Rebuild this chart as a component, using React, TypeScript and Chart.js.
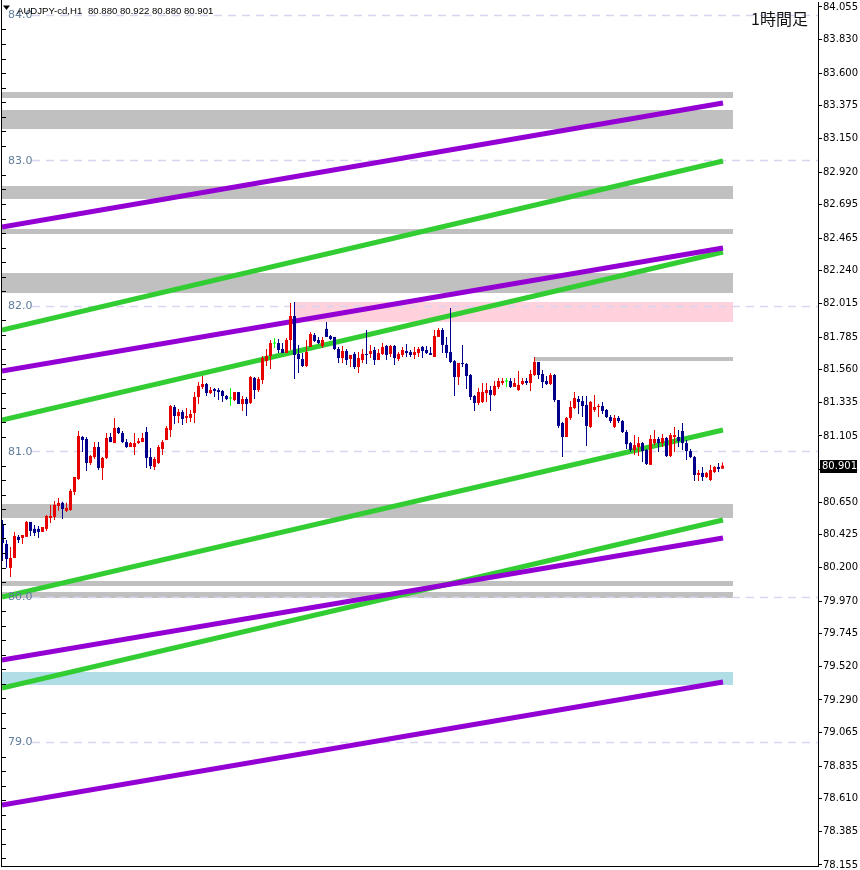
import React, { useEffect, useRef } from 'react';
import { Chart, registerables } from 'chart.js';

Chart.register(...registerables);

// ---- Candle data (AUDJPY-cd, H1) ----
const opens = [
  80.500, 80.362, 80.198, 80.266, 80.411, 80.404, 80.411, 80.514, 80.466, 80.466,
  80.445, 80.466, 80.541, 80.548, 80.624, 80.645, 80.590, 80.596, 80.720, 80.809,
  81.098, 81.084, 80.919, 80.960, 81.029, 80.885, 80.954, 81.098, 81.056, 81.160,
  81.125, 81.063, 81.029, 81.029, 81.056, 81.063, 81.132, 80.960, 80.892, 80.919,
  81.015, 81.077, 81.146, 81.304, 81.242, 81.270, 81.229, 81.229, 81.263, 81.373,
  81.442, 81.462, 81.400, 81.428, 81.421, 81.414, 81.380, 81.366, 81.352, 81.407,
  81.325, 81.359, 81.332, 81.504, 81.421, 81.490, 81.620, 81.655, 81.744, 81.744,
  81.703, 81.675, 81.765, 81.930, 81.669, 81.634, 81.586, 81.717, 81.799, 81.765,
  81.724, 81.841, 81.792, 81.786, 81.703, 81.641, 81.689, 81.634, 81.669, 81.579,
  81.627, 81.669, 81.669, 81.696, 81.627, 81.669, 81.724, 81.669, 81.724, 81.634,
  81.662, 81.689, 81.682, 81.662, 81.675, 81.717, 81.696, 81.675, 81.648, 81.786,
  81.834, 81.731, 81.682, 81.620, 81.510, 81.607, 81.600, 81.524, 81.380, 81.332,
  81.339, 81.400, 81.421, 81.387, 81.442, 81.469, 81.483, 81.483, 81.442, 81.421,
  81.462, 81.483, 81.469, 81.524, 81.614, 81.531, 81.483, 81.462, 81.524, 81.352,
  81.194, 81.098, 81.229, 81.297, 81.359, 81.345, 81.318, 81.167, 81.284, 81.304,
  81.311, 81.284, 81.235, 81.167, 81.229, 81.208, 81.132, 81.056, 81.009, 81.029,
  81.056, 81.009, 80.906, 81.056, 81.084, 81.056, 81.091, 80.967, 81.098, 81.098,
  81.139, 81.056, 81.001, 80.960, 80.837, 80.851, 80.823, 80.802, 80.857, 80.892,
  80.880,
];
const highs = [
  80.527, 80.390, 80.342, 80.445, 80.424, 80.424, 80.521, 80.514, 80.493, 80.486,
  80.479, 80.562, 80.631, 80.658, 80.679, 80.652, 80.645, 80.741, 80.823, 81.139,
  81.105, 81.098, 80.974, 81.063, 81.063, 80.960, 81.125, 81.125, 81.229, 81.167,
  81.139, 81.084, 81.063, 81.125, 81.091, 81.125, 81.167, 81.022, 80.960, 81.043,
  81.077, 81.174, 81.318, 81.318, 81.290, 81.284, 81.297, 81.284, 81.407, 81.476,
  81.517, 81.469, 81.442, 81.435, 81.435, 81.421, 81.387, 81.435, 81.407, 81.407,
  81.380, 81.373, 81.517, 81.510, 81.510, 81.655, 81.703, 81.765, 81.779, 81.772,
  81.744, 81.779, 82.019, 82.026, 81.731, 81.675, 81.765, 81.820, 81.813, 81.786,
  81.786, 81.889, 81.799, 81.786, 81.717, 81.724, 81.703, 81.662, 81.682, 81.682,
  81.703, 81.834, 81.731, 81.717, 81.703, 81.744, 81.731, 81.731, 81.731, 81.682,
  81.717, 81.737, 81.696, 81.717, 81.717, 81.724, 81.724, 81.717, 81.834, 81.848,
  81.848, 81.786, 81.985, 81.627, 81.607, 81.731, 81.607, 81.531, 81.387, 81.435,
  81.469, 81.469, 81.449, 81.483, 81.504, 81.504, 81.504, 81.504, 81.504, 81.552,
  81.504, 81.504, 81.559, 81.648, 81.614, 81.559, 81.517, 81.538, 81.531, 81.352,
  81.201, 81.235, 81.345, 81.407, 81.380, 81.380, 81.380, 81.345, 81.387, 81.325,
  81.339, 81.290, 81.249, 81.249, 81.242, 81.215, 81.146, 81.063, 81.111, 81.098,
  81.063, 81.015, 81.111, 81.146, 81.098, 81.118, 81.098, 81.125, 81.167, 81.146,
  81.194, 81.077, 81.015, 80.967, 80.871, 80.892, 80.857, 80.906, 80.899, 80.919,
  80.922,
];
const lows = [
  80.245, 80.198, 80.136, 80.266, 80.369, 80.362, 80.411, 80.417, 80.417, 80.404,
  80.445, 80.452, 80.507, 80.527, 80.590, 80.534, 80.583, 80.590, 80.699, 80.802,
  80.995, 80.864, 80.906, 80.947, 80.871, 80.802, 80.947, 81.063, 81.056, 81.118,
  81.056, 81.022, 81.029, 80.974, 81.049, 81.063, 80.885, 80.878, 80.871, 80.912,
  80.974, 81.077, 81.098, 81.187, 81.194, 81.180, 81.194, 81.201, 81.194, 81.325,
  81.428, 81.380, 81.394, 81.373, 81.352, 81.339, 81.352, 81.311, 81.345, 81.325,
  81.277, 81.242, 81.325, 81.359, 81.407, 81.462, 81.586, 81.566, 81.710, 81.675,
  81.675, 81.675, 81.696, 81.497, 81.538, 81.579, 81.579, 81.717, 81.751, 81.737,
  81.710, 81.786, 81.765, 81.696, 81.607, 81.607, 81.593, 81.579, 81.566, 81.538,
  81.607, 81.600, 81.641, 81.593, 81.627, 81.662, 81.627, 81.648, 81.593, 81.620,
  81.648, 81.648, 81.648, 81.634, 81.648, 81.641, 81.669, 81.662, 81.648, 81.786,
  81.675, 81.641, 81.607, 81.380, 81.456, 81.579, 81.428, 81.352, 81.277, 81.318,
  81.332, 81.339, 81.277, 81.380, 81.428, 81.456, 81.442, 81.435, 81.442, 81.414,
  81.456, 81.456, 81.414, 81.517, 81.497, 81.435, 81.456, 81.456, 81.339, 81.160,
  80.960, 81.098, 81.215, 81.290, 81.256, 81.235, 81.036, 81.160, 81.270, 81.235,
  81.256, 81.229, 81.194, 81.160, 81.194, 81.125, 81.015, 80.995, 80.974, 80.967,
  80.926, 80.906, 80.906, 81.042, 80.995, 81.029, 80.960, 80.960, 80.995, 81.029,
  81.009, 80.940, 80.954, 80.796, 80.796, 80.796, 80.816, 80.796, 80.851, 80.857,
  80.880,
];
const closes = [
  80.369, 80.259, 80.266, 80.417, 80.390, 80.424, 80.514, 80.452, 80.438, 80.445,
  80.479, 80.555, 80.555, 80.631, 80.645, 80.603, 80.610, 80.727, 80.823, 81.105,
  81.077, 80.919, 80.967, 81.029, 80.885, 80.954, 81.091, 81.063, 81.160, 81.125,
  81.063, 81.029, 81.056, 81.056, 81.070, 81.091, 80.954, 80.898, 80.947, 81.029,
  81.063, 81.160, 81.311, 81.242, 81.270, 81.222, 81.242, 81.256, 81.373, 81.449,
  81.462, 81.400, 81.421, 81.414, 81.407, 81.380, 81.359, 81.366, 81.407, 81.325,
  81.359, 81.325, 81.510, 81.421, 81.497, 81.641, 81.655, 81.744, 81.744, 81.696,
  81.675, 81.765, 81.930, 81.662, 81.634, 81.586, 81.682, 81.806, 81.758, 81.744,
  81.765, 81.786, 81.772, 81.703, 81.641, 81.689, 81.627, 81.662, 81.579, 81.641,
  81.669, 81.662, 81.689, 81.627, 81.675, 81.717, 81.662, 81.724, 81.641, 81.669,
  81.696, 81.675, 81.662, 81.682, 81.703, 81.689, 81.675, 81.662, 81.792, 81.834,
  81.731, 81.675, 81.614, 81.510, 81.607, 81.600, 81.517, 81.373, 81.332, 81.407,
  81.407, 81.421, 81.387, 81.449, 81.483, 81.483, 81.483, 81.442, 81.469, 81.456,
  81.483, 81.469, 81.531, 81.614, 81.524, 81.476, 81.462, 81.524, 81.352, 81.174,
  81.098, 81.229, 81.304, 81.366, 81.339, 81.311, 81.174, 81.339, 81.304, 81.311,
  81.277, 81.235, 81.208, 81.229, 81.208, 81.132, 81.049, 81.009, 81.042, 81.056,
  81.001, 80.912, 81.084, 81.084, 81.056, 81.091, 80.967, 81.111, 81.111, 81.070,
  81.056, 81.001, 80.960, 80.837, 80.851, 80.823, 80.851, 80.871, 80.892, 80.878,
  80.901,
];

const symbolName = 'AUDJPY-cd,H1';
const timeframeLabel = '1時間足';

// right price-axis tick labels
const rightTicks = [
  84.055, 83.83, 83.6, 83.375, 83.15, 82.92, 82.695, 82.465, 82.24, 82.015,
  81.785, 81.56, 81.335, 81.105, 80.875, 80.65, 80.425, 80.2, 79.97, 79.745,
  79.52, 79.29, 79.065, 78.835, 78.61, 78.385, 78.155,
];
// left round-number labels
const leftLabels = [84, 83, 82, 81, 80, 79];

// horizontal zones (rectangles): low, high, start bar, end bar
const zoneLows = [83.429, 83.216, 82.735, 82.494, 82.088, 81.889, 81.621, 80.541, 80.073, 79.994, 79.392];
const zoneHighs = [83.470, 83.347, 82.824, 82.528, 82.226, 82.026, 81.648, 80.637, 80.108, 80.035, 79.482];
const zoneStarts = [-5, -5, -5, -5, -5, 73, 133, -5, -5, -5, -5];
const zoneEnds = [182.6, 182.6, 182.6, 182.6, 182.6, 182.6, 182.6, 182.6, 182.6, 182.6, 182.6];
const zoneKinds = ['gray', 'gray', 'gray', 'gray', 'gray', 'pink', 'gray', 'gray', 'gray', 'gray', 'blue'];

// trend lines: start/end bar and prices
const trendStartBar = -0.125;
const trendEndBar = 180.125;
const purpleStarts = [82.542, 81.552, 79.564, 78.567];
const purpleEnds = [83.395, 82.398, 80.403, 79.413];
const greenStarts = [81.834, 81.215, 79.998, 79.372];
const greenEnds = [82.996, 82.370, 81.146, 80.527];

const X_MIN = -0.125;
const X_MAX = 203.875;
const Y_MIN = 78.148;
const Y_MAX = 84.089;

const BULL = '#e60000';
const BEAR = '#00008c';
const DOJI = '#00ff00';
const ZONE_COLORS: Record<string, string> = { gray: '#c0c0c0', pink: '#ffd1dc', blue: '#b0dde6' };

const decorPlugin = {
  id: 'decor',
  beforeDatasetsDraw(chart: any) {
    const { ctx, chartArea: a, scales } = chart;
    const xs = scales.x;
    const ys = scales.y;
    ctx.save();
    ctx.beginPath();
    ctx.rect(a.left, a.top, a.right - a.left, a.bottom - a.top);
    ctx.clip();
    for (let k = 0; k < zoneLows.length; k++) {
      const x0 = Math.round(xs.getPixelForValue(zoneStarts[k]));
      const x1 = Math.round(xs.getPixelForValue(zoneEnds[k]));
      const y0 = Math.round(ys.getPixelForValue(zoneHighs[k]));
      const y1 = Math.round(ys.getPixelForValue(zoneLows[k]));
      ctx.fillStyle = ZONE_COLORS[zoneKinds[k]];
      ctx.fillRect(x0, y0, x1 - x0, Math.max(1, y1 - y0));
    }
    ctx.strokeStyle = '#d6d6f0';
    ctx.lineWidth = 1.5;
    ctx.setLineDash([8, 6]);
    for (const v of leftLabels) {
      const yy = Math.round(ys.getPixelForValue(v)) + 0.5;
      ctx.beginPath();
      ctx.moveTo(a.left + 30, yy);
      ctx.lineTo(a.right, yy);
      ctx.stroke();
    }
    ctx.restore();
  },
  afterDatasetsDraw(chart: any) {
    const { ctx, chartArea: a, scales } = chart;
    const ys = scales.y;
    ctx.save();
    // frame
    ctx.fillStyle = '#000';
    ctx.fillRect(a.left - 1, 0, 1, a.bottom + 1);
    ctx.fillRect(a.left - 1, a.bottom, a.right - a.left + 1, 1);
    // left small ticks every 0.1
    for (let t = 782; t <= 840; t++) {
      if (t % 10 === 0) continue;
      const yy = Math.round(ys.getPixelForValue(t / 10)) + 0.5;
      if (yy < a.top || yy > a.bottom) continue;
      ctx.fillRect(a.left - 1, yy - 0.5, 5, 1);
    }
    // left labels
    ctx.font = '11px "DejaVu Sans"';
    ctx.fillStyle = '#5f7c9b';
    ctx.textBaseline = 'middle';
    ctx.textAlign = 'left';
    for (const v of leftLabels) {
      ctx.fillText(v.toFixed(1), a.left + 6, ys.getPixelForValue(v) + 0.5);
    }
    // header
    ctx.fillStyle = '#000';
    ctx.beginPath();
    ctx.moveTo(3, 5.5);
    ctx.lineTo(10, 5.5);
    ctx.lineTo(6.5, 10);
    ctx.closePath();
    ctx.fill();
    const n = opens.length - 1;
    ctx.font = '9.6px "Liberation Sans"';
    ctx.textBaseline = 'alphabetic';
    ctx.fillStyle = '#000';
    ctx.fillText(symbolName, 17, 14);
    ctx.fillText(
      [opens[n], highs[n], lows[n], closes[n]].map((v) => v.toFixed(3)).join(' '),
      88,
      14
    );
    // timeframe label
    ctx.font = '16px "Noto Sans CJK JP"';
    ctx.fillStyle = '#111';
    ctx.textBaseline = 'middle';
    ctx.fillText(timeframeLabel, 751, 19);
    // current price box
    const py = Math.round(ys.getPixelForValue(closes[n]));
    ctx.fillStyle = '#000';
    ctx.fillRect(a.right + 2, py - 6, 37, 13);
    ctx.fillStyle = '#fff';
    ctx.font = '10px "DejaVu Sans"';
    ctx.textBaseline = 'middle';
    ctx.fillText(closes[n].toFixed(3), a.right + 4, py + 0.5);
    ctx.restore();
  },
};

export default function App() {
  const ref = useRef<HTMLCanvasElement | null>(null);

  useEffect(() => {
    document.body.style.margin = '0';
    const canvas = ref.current;
    if (!canvas) return;
    const idx = opens.map((_, i) => i);
    const colorOf = (i: number) =>
      closes[i] > opens[i] ? BULL : closes[i] < opens[i] ? BEAR : DOJI;
    const wickData = idx.map((i) => ({ x: i, y: [lows[i], highs[i]] }));
    const bodyData = idx.map((i) => {
      let lo = Math.min(opens[i], closes[i]);
      let hi = Math.max(opens[i], closes[i]);
      if (hi - lo < 0.007) {
        const m = (hi + lo) / 2;
        lo = m - 0.0035;
        hi = m + 0.0035;
      }
      return { x: i, y: [lo, hi] };
    });
    const colors = idx.map(colorOf);

    const lineSets: any[] = [];
    purpleStarts.forEach((s, k) => {
      lineSets.push({
        type: 'line',
        data: [
          { x: trendStartBar, y: s },
          { x: trendEndBar, y: purpleEnds[k] },
        ],
        borderColor: '#9400d3',
        borderWidth: 5,
        pointRadius: 0,
        tension: 0,
        order: 3,
      });
    });
    greenStarts.forEach((s, k) => {
      lineSets.push({
        type: 'line',
        data: [
          { x: trendStartBar, y: s },
          { x: trendEndBar, y: greenEnds[k] },
        ],
        borderColor: '#32cd32',
        borderWidth: 5,
        pointRadius: 0,
        tension: 0,
        order: 3,
      });
    });

    const chart = new Chart(canvas, {
      type: 'bar',
      data: {
        datasets: [
          ...lineSets,
          {
            type: 'bar',
            data: wickData,
            backgroundColor: colors,
            barThickness: 1,
            grouped: false,
            borderWidth: 0,
            inflateAmount: 0,
            order: 2,
          },
          {
            type: 'bar',
            data: bodyData,
            backgroundColor: colors,
            barThickness: 3,
            grouped: false,
            borderWidth: 0,
            inflateAmount: 0,
            order: 1,
          },
        ] as any,
      },
      options: {
        responsive: false,
        maintainAspectRatio: false,
        animation: false,
        events: [],
        layout: { padding: { left: 2, top: 2, bottom: 4, right: 0 } },
        plugins: {
          legend: { display: false },
          tooltip: { enabled: false },
        },
        scales: {
          x: {
            type: 'linear',
            min: X_MIN,
            max: X_MAX,
            display: false,
            offset: false,
          },
          y: {
            type: 'linear',
            position: 'right',
            min: Y_MIN,
            max: Y_MAX,
            afterBuildTicks: (s: any) => {
              s.ticks = rightTicks.map((v) => ({ value: v }));
            },
            afterFit: (s: any) => {
              s.width = 42;
              s.paddingTop = 0;
              s.paddingBottom = 0;
            },
            ticks: {
              autoSkip: false,
              padding: 1,
              color: '#000',
              font: { family: 'DejaVu Sans', size: 10 },
              callback: (v: any) => Number(v).toFixed(3),
            },
            grid: {
              drawOnChartArea: false,
              drawTicks: true,
              tickLength: 4,
              color: '#000',
              tickColor: '#000',
            },
            border: { display: true, color: '#000', width: 1 },
          },
        },
      } as any,
      plugins: [decorPlugin],
    });
    return () => chart.destroy();
  }, []);

  return (
    <div style={{ width: 860, height: 870, background: '#fff' }}>
      <canvas ref={ref} width={860} height={870} style={{ display: 'block' }} />
    </div>
  );
}
